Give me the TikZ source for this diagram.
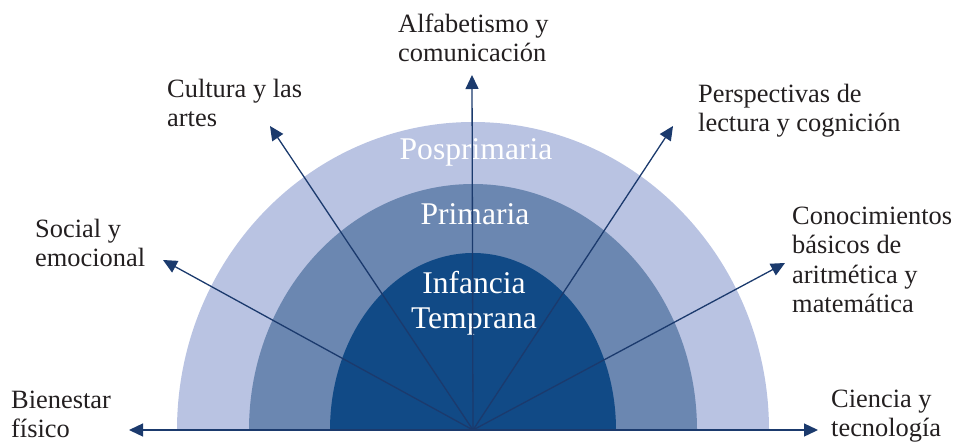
\documentclass[tikz,border=0pt]{standalone}
\usepackage{fontspec}
\setmainfont{Liberation Serif}
\usetikzlibrary{arrows.meta}
\definecolor{ringA}{HTML}{B9C3E2}
\definecolor{ringB}{HTML}{6B87B1}
\definecolor{ringC}{HTML}{114A86}
\definecolor{arrowcol}{HTML}{1B3A6D}
\definecolor{labelcol}{HTML}{231F20}
\begin{document}
\begin{tikzpicture}[x=1pt,y=-1pt,
  axis/.style={draw=arrowcol,line width=1.3pt,-{Triangle[length=14pt,width=13pt]}},
  outlabel/.style={anchor=north west,inner sep=0pt,align=left,text=labelcol,font=\fontsize{26.4}{29.2}\selectfont},
  inlabel/.style={inner sep=0pt,align=center,text=white,font=\fontsize{31.6}{35}\selectfont}]
\useasboundingbox (0,0) rectangle (955,442);
\coordinate (O) at (473,430);
\begin{scope}
  \clip (0,0) rectangle (955,430.5);
  \fill[ringA] (O) ellipse[x radius=296,y radius=308];
  \fill[ringB] (O) ellipse[x radius=224,y radius=246];
  \fill[ringC] (O) ellipse[x radius=143,y radius=177];
\end{scope}
\node[inlabel,anchor=base] (pos) at (476,159) {Posprimaria};
\node[inlabel,anchor=base] (pri) at (475,224) {Primaria};
\node[inlabel,anchor=north] (inf) at (474,271) {Infancia\\Temprana};
\coordinate (eL) at (129,430);
\coordinate (eR) at (818,430);
\coordinate (eU) at (472,75);
\coordinate (eUL) at (270,126);
\coordinate (eL2) at (163,260);
\coordinate (eUR) at (673,126);
\coordinate (eR2) at (785,263);
\foreach \e in {eL,eR,eU,eUL,eL2,eUR,eR2} \draw[axis] (O) -- (\e);
\node[outlabel] (alf) at (398,14) {Alfabetismo y\\comunicación};
\node[outlabel] (cul) at (167,79) {Cultura y las\\artes};
\node[outlabel] (soc) at (35,219) {Social y\\emocional};
\node[outlabel] (per) at (698,84) {Perspectivas de\\lectura y cognición};
\node[outlabel] (con) at (792,207) {Conocimientos\\básicos de\\aritmética y\\matemática};
\node[outlabel] (bie) at (11,391) {Bienestar\\físico};
\node[outlabel] (cie) at (831,390) {Ciencia y\\tecnología};
\end{tikzpicture}
\end{document}
